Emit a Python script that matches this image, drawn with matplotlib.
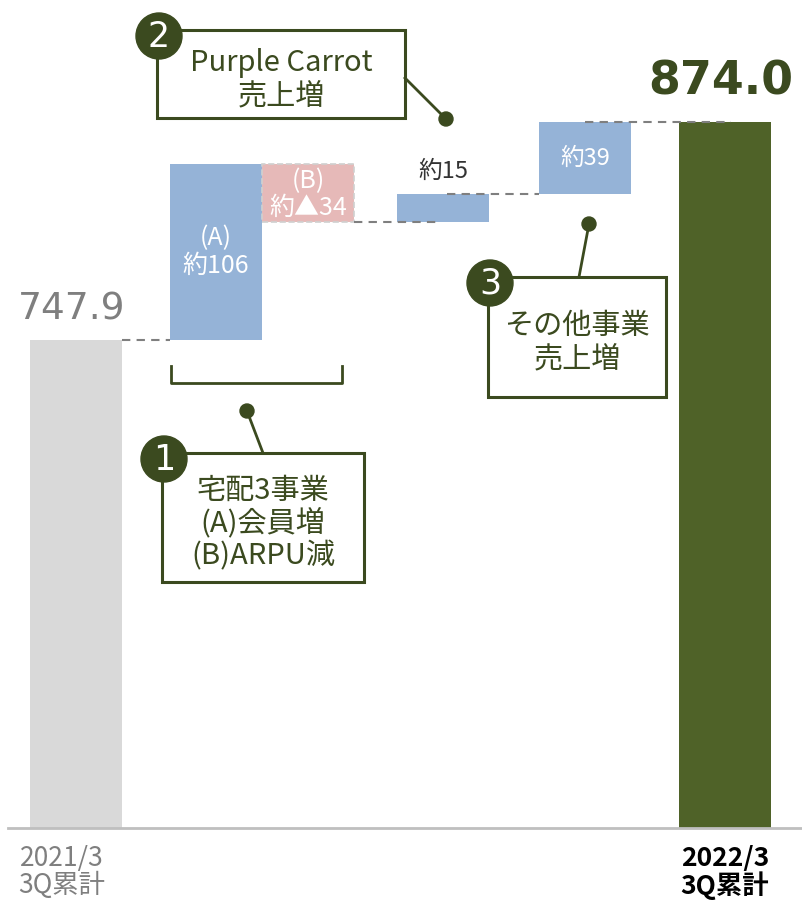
import numpy as np
import matplotlib.pyplot as plt
from matplotlib.patches import Circle, Rectangle

plt.rcParams['font.family'] = ['Noto Sans CJK JP', 'DejaVu Sans']

# data (bar heights; labels as printed)
start_value = 747.9
end_value = 874.0
deltas = [101.8, -33.6, 16.2, 41.7]
delta_labels = ["(A)\n約106", "(B)\n約▲34", "約15", "約39"]
tick_labels = ["2021/3\n3Q累計", "2022/3\n3Q累計"]

GREEN = '#4f6228'
DARK = '#3b4a1f'
BLUE = '#95b3d7'
PINK = '#e6b9b8'
GRAY = '#d9d9d9'

fig = plt.figure(figsize=(8.03, 9.01), dpi=100)
ax = fig.add_axes([8 / 803, 73 / 901, 795 / 803, 828 / 901])

pos = [0, 1, 1.657, 2.621, 3.636, 4.636]
w = 0.657

# waterfall
levels = np.concatenate([[start_value], start_value + np.cumsum(deltas)])
ax.bar(pos[0], start_value, w, color=GRAY, zorder=2)
ax.bar(pos[-1], end_value, w, color=GREEN, zorder=2)
for i, d in enumerate(deltas):
    bottom = levels[i] if d > 0 else levels[i + 1]
    if d > 0:
        ax.bar(pos[i + 1], abs(d), w, bottom=bottom, color=BLUE, zorder=2)
    else:
        ax.bar(pos[i + 1], abs(d), w, bottom=bottom, color=PINK, zorder=2,
               edgecolor='#d0d0d0', linestyle='--', linewidth=1.2)

# connectors
conn_y = [start_value, levels[2], levels[3], end_value]
conn_x = [(pos[0] + w / 2, pos[1] - w / 2), (pos[2] + w / 2, pos[3] - 0.03),
          (pos[3] + 0.03, pos[4] - w / 2), (pos[4], pos[5] + 0.04)]
for (x0, x1), y in zip(conn_x, conn_y):
    ax.plot([x0, x1], [y, y], color='#7f7f7f', linestyle=(0, (4, 3)),
            linewidth=1.5, zorder=3)

# labels
ax.text(pos[1], (levels[0] + levels[1]) / 2, delta_labels[0], color='white',
        ha='center', va='center', fontsize=18, linespacing=1.1, zorder=4)
ax.text(pos[2], (levels[1] + levels[2]) / 2 - 1, delta_labels[1], color='white',
        ha='center', va='center', fontsize=18, linespacing=1.05, zorder=4)
ax.text(pos[3], levels[3] + 13, delta_labels[2], color='#333333',
        ha='center', va='center', fontsize=17, zorder=4)
ax.text(pos[4], (levels[3] + levels[4]) / 2, delta_labels[3], color='white',
        ha='center', va='center', fontsize=17, zorder=4)
ax.text(pos[0] - 0.03, start_value + 7, f"{start_value:.1f}", color='#7f7f7f',
        ha='center', va='bottom', fontsize=27, family='DejaVu Sans')
ax.text(pos[-1] - 0.03, end_value + 10, f"{end_value:.1f}", color=DARK,
        ha='center', va='bottom', fontsize=33, fontweight='bold', family='DejaVu Sans')

ax.set_xlim(-0.486, 5.193)
ax.set_ylim(465.6, 944.6)
for s in ['top', 'right', 'left']:
    ax.spines[s].set_visible(False)
ax.spines['bottom'].set_color('#bfbfbf')
ax.spines['bottom'].set_linewidth(2)
ax.set_yticks([])
ax.set_xticks([pos[0] - 0.1, pos[-1]])
ax.set_xticklabels(tick_labels, fontsize=19, linespacing=1.0)
ax.tick_params(axis='x', length=0, pad=12)
ax.get_xticklabels()[0].set_color('#7f7f7f')
ax.get_xticklabels()[1].set_fontweight('bold')

# annotation layer in pixel coordinates
ov = fig.add_axes([0, 0, 1, 1])
ov.set_xlim(0, 803)
ov.set_ylim(901, 0)
ov.axis('off')
ov.patch.set_alpha(0)

def callout(num, x0, y0, x1, y1, lines, leader, dot):
    ov.plot([leader[0], dot[0]], [leader[1], dot[1]], color=DARK, linewidth=2)
    ov.add_patch(Circle(dot, 7, color=DARK))
    ov.add_patch(Rectangle((x0, y0), x1 - x0, y1 - y0, facecolor='white',
                           edgecolor=DARK, linewidth=2.2))
    ov.add_patch(Circle((x0 + 2, y0 + 6), 23, color=DARK, zorder=5))
    ov.text(x0 + 2, y0 + 7, str(num), color='white', ha='center', va='center',
            fontsize=25, zorder=6, family='DejaVu Sans')
    cx = (x0 + x1) / 2
    n = len(lines)
    top = (y0 + y1) / 2 + 6 - (n - 1) * 16.5
    for k, t in enumerate(lines):
        ov.text(cx, top + k * 33, t, color=DARK, ha='center', va='center', fontsize=21)

callout(2, 157, 30, 405, 118, ["Purple Carrot", "売上増"], (405, 78), (446, 119))
callout(1, 162, 453, 364, 582, ["宅配3事業", "(A)会員増", "(B)ARPU減"], (263, 453), (247, 411))
callout(3, 488, 277, 666, 397, ["その他事業", "売上増"], (579, 277), (589, 224))

# bracket under (A)(B)
ov.plot([171, 171, 342, 342], [366, 383, 383, 366], color=DARK, linewidth=2)

fig.savefig('out.png', dpi=100)
